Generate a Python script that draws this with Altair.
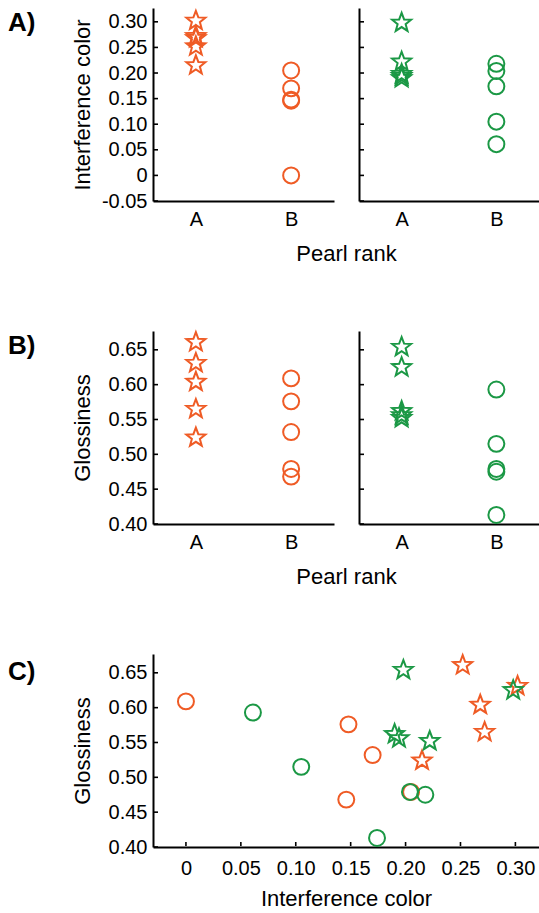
import altair as alt
import pandas as pd

ORANGE = "#EF5B25"
GREEN = "#1B9845"
FONT = "Liberation Sans"

# ---- data -------------------------------------------------------------
ranks = ["A", "B"]
groups = ["orange", "green"]

orange_A_interference = [0.302, 0.252, 0.268, 0.272, 0.215]
orange_A_glossiness = [0.631, 0.661, 0.604, 0.565, 0.524]
orange_B_interference = [0.000, 0.148, 0.170, 0.146, 0.205]
orange_B_glossiness = [0.609, 0.576, 0.532, 0.468, 0.479]
green_A_interference = [0.198, 0.298, 0.190, 0.194, 0.222]
green_A_glossiness = [0.654, 0.625, 0.562, 0.556, 0.552]
green_B_interference = [0.061, 0.105, 0.204, 0.218, 0.174]
green_B_glossiness = [0.593, 0.515, 0.479, 0.475, 0.413]

interference_ticks = [-0.05, 0, 0.05, 0.10, 0.15, 0.20, 0.25, 0.30]
glossiness_ticks = [0.40, 0.45, 0.50, 0.55, 0.60, 0.65]
interference_x_ticks = [0, 0.05, 0.10, 0.15, 0.20, 0.25, 0.30]

panel_letters = ["A)", "B)", "C)"]

# ---- table ------------------------------------------------------------
rows = []
for g, r, xi, gl in [
    ("orange", "A", orange_A_interference, orange_A_glossiness),
    ("orange", "B", orange_B_interference, orange_B_glossiness),
    ("green", "A", green_A_interference, green_A_glossiness),
    ("green", "B", green_B_interference, green_B_glossiness),
]:
    for a, b in zip(xi, gl):
        rows.append({"group": g, "rank": r, "interference": a, "glossiness": b})
df = pd.DataFrame(rows)

STAR = ("M0,-1L0.247,-0.340L0.951,-0.309L0.400,0.130L0.588,0.809"
        "L0,0.42L-0.588,0.809L-0.400,0.130L-0.951,-0.309L-0.247,-0.340Z")

PW, PW2, PH = 181, 180, 193
LABEL_EXPR = ("datum.value == 0 ? '0' : (datum.value < 0 ? '-' + format(-datum.value, '.2f')"
              " : format(datum.value, '.2f'))")

color_enc = alt.Color("group:N", scale=alt.Scale(domain=groups, range=[ORANGE, GREEN]), legend=None)
shape_enc = alt.Shape("rank:N", scale=alt.Scale(domain=ranks, range=[STAR, "circle"]), legend=None)
size_enc = alt.Size("rank:O", scale=alt.Scale(domain=ranks, range=[400, 255]), legend=None)


def letter_layer(text, dy):
    return alt.Chart(pd.DataFrame({"t": [text]})).mark_text(
        font=FONT, fontSize=26, fontWeight="bold", align="left", baseline="alphabetic", color="black"
    ).encode(text="t:N", x=alt.value(-145), y=alt.value(dy))


def tick_rules(field, ticks, yscale):
    return alt.Chart(pd.DataFrame({field: ticks})).mark_rule(color="black", strokeWidth=1.6).encode(
        y=alt.Y(f"{field}:Q", scale=yscale, axis=None), x=alt.value(1), x2=alt.value(5)
    )


def strip(group, field, domain, ticks, left, ytitle, letter=None, letter_dy=23, width=PW):
    yscale = alt.Scale(domain=domain, nice=False, zero=False)
    if left:
        yaxis = alt.Axis(values=ticks, labelExpr=LABEL_EXPR, title=ytitle, titleX=-64,
                         titleY=PH / 2, titleAngle=-90, titleBaseline="alphabetic",
                         titleAlign="center", labelPadding=6, labelOverlap=False, labelFlush=False)
        xaxis = alt.Axis(labelAngle=0, labelPadding=8, title="Pearl rank", titleX=193,
                         titleY=59, titleBaseline="alphabetic", titleAlign="center")
    else:
        yaxis = alt.Axis(values=ticks, labels=False, title=None)
        xaxis = alt.Axis(labelAngle=0, labelPadding=8, title=None)
    pts = alt.Chart(df[df["group"] == group]).mark_point(filled=False, strokeWidth=2, opacity=1).encode(
        x=alt.X("rank:N", scale=alt.Scale(type="point", domain=ranks, padding=0.45), axis=xaxis),
        y=alt.Y(f"{field}:Q", scale=yscale, axis=yaxis),
        color=color_enc, shape=shape_enc, size=size_enc,
    )
    layers = [pts, tick_rules(field, ticks, yscale)]
    if letter:
        layers.append(letter_layer(letter, letter_dy))
    return alt.layer(*layers).resolve_axis(y="independent").properties(width=width, height=PH)


IDOM = [-0.05, 0.327]
GDOM = [0.40, 0.677]

rowA = alt.hconcat(
    strip("orange", "interference", IDOM, interference_ticks, True, "Interference color", panel_letters[0], 23),
    strip("green", "interference", IDOM, interference_ticks, False, None, width=PW2),
    spacing=25, bounds="flush",
)
rowB = alt.hconcat(
    strip("orange", "glossiness", GDOM, glossiness_ticks, True, "Glossiness", panel_letters[1], 23),
    strip("green", "glossiness", GDOM, glossiness_ticks, False, None, width=PW2),
    spacing=25, bounds="flush",
)

xs = alt.Scale(domain=[-0.030, 0.3215], nice=False, zero=False)
ys = alt.Scale(domain=GDOM, nice=False, zero=False)
c_pts = alt.Chart(df).mark_point(filled=False, strokeWidth=2, opacity=1).encode(
    x=alt.X("interference:Q", scale=xs,
            axis=alt.Axis(values=interference_x_ticks, labelExpr=LABEL_EXPR, labelPadding=11,
                          labelOverlap=False, labelFlush=False,
                          title="Interference color", titleY=58, titleBaseline="alphabetic")),
    y=alt.Y("glossiness:Q", scale=ys,
            axis=alt.Axis(values=glossiness_ticks, labelExpr=LABEL_EXPR, labelPadding=6,
                          labelOverlap=False, labelFlush=False,
                          title="Glossiness", titleX=-64, titleY=PH / 2, titleAngle=-90,
                          titleBaseline="alphabetic", titleAlign="center")),
    color=color_enc, shape=shape_enc, size=size_enc,
)
c_xt = alt.Chart(pd.DataFrame({"interference": interference_x_ticks})).mark_rule(color="black", strokeWidth=1.6).encode(
    x=alt.X("interference:Q", scale=xs, axis=None), y=alt.value(PH - 1), y2=alt.value(PH - 5)
)
rowC = alt.layer(c_pts, tick_rules("glossiness", glossiness_ticks, ys), c_xt,
                 letter_layer(panel_letters[2], 26)).resolve_axis(
    x="independent", y="independent").properties(width=PW + 25 + PW2, height=PH)

chart = alt.vconcat(rowA, rowB, rowC, spacing=64).properties(
    padding={"left": 8, "top": 6, "right": 0, "bottom": 0}
).configure_view(stroke=None).configure_axis(
    domainColor="black", domainWidth=2, ticks=False, grid=False,
    labelFont=FONT, labelFontSize=20, labelColor="black",
    titleFont=FONT, titleFontSize=22, titleFontWeight="normal", titleColor="black",
)

chart.save("out.html", embed_options={"renderer": "svg", "actions": False})
